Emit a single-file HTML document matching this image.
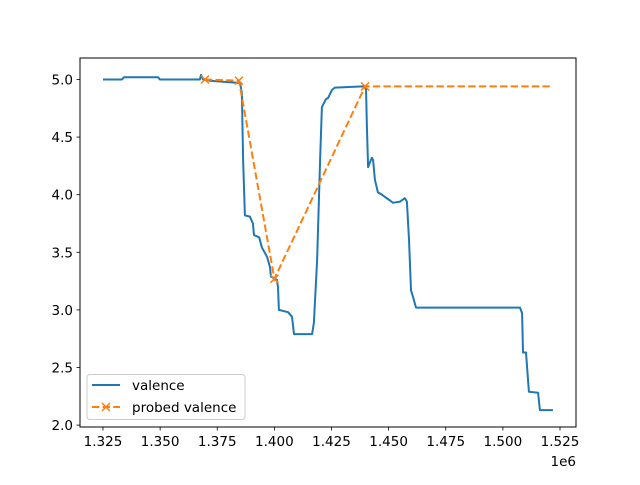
<!DOCTYPE html>
<html><head><meta charset="utf-8"><style>
body{margin:0;background:#fff;}
svg{font-family:"DejaVu Sans","Liberation Sans",sans-serif;}
</style></head><body>
<svg id="chart" width="640" height="480" viewBox="0 0 640 480" xmlns="http://www.w3.org/2000/svg">
<rect width="640" height="480" fill="#fff"/>
<g id="plot"></g>
</svg>
<script>
const valX=[1.3250,1.3333,1.3342,1.3491,1.3499,1.3674,1.3679,1.3688,1.3718,1.3850,1.3858,1.3863,1.3871,1.3893,1.3906,1.3911,1.3933,1.3946,1.3968,1.3981,1.3985,1.4011,1.4016,1.4020,1.4060,1.4077,1.4086,1.4165,1.4173,1.4187,1.4200,1.4208,1.4226,1.4235,1.4252,1.4265,1.4388,1.4401,1.4405,1.4410,1.4418,1.4427,1.4432,1.4440,1.4453,1.4471,1.4484,1.4506,1.4519,1.4550,1.4571,1.4580,1.4589,1.4598,1.4607,1.4620,1.5075,1.5084,1.5088,1.5101,1.5114,1.5154,1.5162,1.5219];
const valY=[5.00,5.00,5.02,5.02,5.00,5.00,5.04,5.00,4.99,4.97,4.88,4.30,3.82,3.81,3.75,3.65,3.63,3.54,3.46,3.37,3.29,3.26,3.20,3.00,2.98,2.94,2.79,2.79,2.89,3.43,4.30,4.76,4.83,4.84,4.91,4.93,4.94,4.93,4.59,4.24,4.28,4.32,4.30,4.13,4.02,4.00,3.98,3.95,3.93,3.94,3.97,3.94,3.61,3.17,3.11,3.02,3.02,2.97,2.63,2.63,2.29,2.28,2.13,2.13];
const probeX=[1.3696,1.3845,1.4000,1.4397];
const probeY=[5.00,4.99,3.27,4.94];
const probeEndX=1.5219;
const xTicks=[1.325,1.350,1.375,1.400,1.425,1.450,1.475,1.500,1.525];
const xTickLabels=["1.325","1.350","1.375","1.400","1.425","1.450","1.475","1.500","1.525"];
const yTicks=[2.0,2.5,3.0,3.5,4.0,4.5,5.0];
const yTickLabels=["2.0","2.5","3.0","3.5","4.0","4.5","5.0"];

const L=80,R=576,T=58,B=427;
const FS=13.5;
function sx(v){return 103+(v-1.325)*2285;}
function sy(v){return 79.5+(5-v)*115.2;}
const NS="http://www.w3.org/2000/svg";
const g=document.getElementById('plot');
function mk(tag,attrs,parent){const e=document.createElementNS(NS,tag);for(const k in attrs)e.setAttribute(k,attrs[k]);(parent||g).appendChild(e);return e;}

let d=valX.map((x,i)=>(i?'L':'M')+sx(x).toFixed(1)+' '+sy(valY[i]).toFixed(1)).join(' ');
let ln=mk('path',{d:d,fill:'none',stroke:'#1f77b4','stroke-width':2,'stroke-linejoin':'round'});



let pd=probeX.map((x,i)=>(i?'L':'M')+sx(x).toFixed(1)+' '+sy(probeY[i]).toFixed(1)).join(' ');
pd+=' L'+sx(probeEndX).toFixed(1)+' '+sy(probeY[probeY.length-1]).toFixed(1);
let pl=mk('path',{d:pd,fill:'none',stroke:'#ff7f0e','stroke-width':2,'stroke-dasharray':'7.4,3.2'});


probeX.forEach((x,i)=>{const cx=sx(x),cy=sy(probeY[i]);
 const m=mk('path',{d:`M${cx-4} ${cy-4}L${cx+4} ${cy+4}M${cx-4} ${cy+4}L${cx+4} ${cy-4}`,stroke:'#ff7f0e','stroke-width':1.5});
 
 });

let fr=mk('rect',{x:L,y:T,width:R-L,height:B-T,fill:'none',stroke:'#000','stroke-width':1});



xTicks.forEach((v,i)=>{const x=sx(v);
 mk('line',{x1:x,y1:B,x2:x,y2:B+3.5,stroke:'#000','stroke-width':0.8});
 const t=mk('text',{x:x,y:B+19,'font-size':FS,'text-anchor':'middle',fill:'#000'});t.textContent=xTickLabels[i];
 
 });
yTicks.forEach((v,i)=>{const y=sy(v);
 mk('line',{x1:L-3.5,y1:y,x2:L,y2:y,stroke:'#000','stroke-width':0.8});
 const t=mk('text',{x:L-7,y:y+5,'font-size':FS,'text-anchor':'end',fill:'#000'});t.textContent=yTickLabels[i];
 
 });
const off=mk('text',{x:576,y:466,'font-size':FS,'text-anchor':'end',fill:'#000'});off.textContent='1e6';



const lg=mk('g',{});


mk('rect',{x:87,y:374.5,width:158,height:45,rx:3,fill:'#fff',stroke:'#ccc','stroke-width':1},lg);
mk('line',{x1:92,y1:385,x2:120,y2:385,stroke:'#1f77b4','stroke-width':2},lg);
let t1=mk('text',{x:132,y:390,'font-size':FS,fill:'#000'},lg);t1.textContent='valence';


mk('line',{x1:92,y1:407,x2:120,y2:407,stroke:'#ff7f0e','stroke-width':2,'stroke-dasharray':'7.4,3.2'},lg);
mk('path',{d:'M102 403L110 411M102 411L110 403',stroke:'#ff7f0e','stroke-width':1.5},lg);
let t2=mk('text',{x:132,y:412,'font-size':FS,fill:'#000'},lg);t2.textContent='probed valence';


</script>
</body></html>
